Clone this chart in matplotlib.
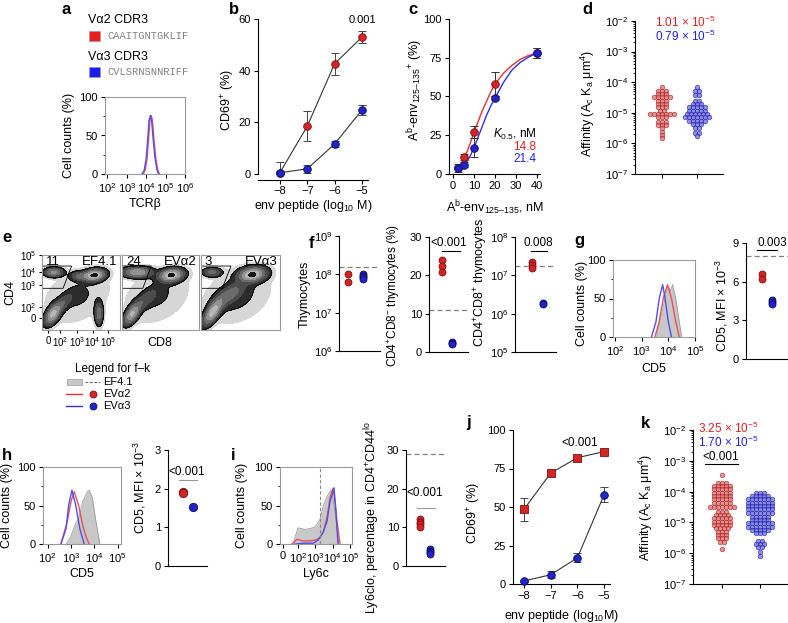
import numpy as np
import matplotlib
matplotlib.use("Agg")
import matplotlib.pyplot as plt
from matplotlib.lines import Line2D
from matplotlib.patches import Rectangle, Polygon
from matplotlib.ticker import LogLocator, NullFormatter, FixedLocator

plt.rcParams['font.family'] = ['Liberation Sans', 'DejaVu Sans']
plt.rcParams['mathtext.fontset'] = 'custom'
plt.rcParams['mathtext.rm'] = 'Liberation Sans'
plt.rcParams['mathtext.it'] = 'Liberation Sans:italic'
plt.rcParams['mathtext.bf'] = 'Liberation Sans:bold'
plt.rcParams['font.size'] = 8
plt.rcParams['axes.linewidth'] = 0.8
plt.rcParams['xtick.major.width'] = 0.8
plt.rcParams['ytick.major.width'] = 0.8
plt.rcParams['xtick.major.size'] = 3
plt.rcParams['ytick.major.size'] = 3
plt.rcParams['xtick.minor.size'] = 1.5
plt.rcParams['ytick.minor.size'] = 1.5
plt.rcParams['xtick.major.pad'] = 2
plt.rcParams['ytick.major.pad'] = 2

W, H = 788, 623
RED, RED_E = '#d42424', '#7a1010'
BLUE, BLUE_E = '#2323c8', '#0b0b62'
RED_L, BLUE_L = '#e07070', '#6c6ce0'
GRAYF = '#c8c8c8'

# ---- data ----
# a: TCRb histograms (log10 intensity, % max)
a_red_t = [3.85, 3.95, 4.05, 4.12, 4.20, 4.26, 4.32, 4.40, 4.50, 4.60, 4.68]
a_red_y = [0, 5, 20, 45, 70, 76, 70, 45, 20, 5, 0]
a_blue_t = [3.78, 3.90, 4.00, 4.08, 4.15, 4.22, 4.28, 4.36, 4.46, 4.56, 4.64]
a_blue_y = [0, 5, 20, 45, 70, 76, 70, 45, 20, 5, 0]

# b: CD69 dose response
b_x = [-8, -7, -6, -5]
b_red = [0.5, 18.5, 42.7, 53.0]
b_red_err = [4.0, 5.7, 4.3, 2.4]
b_blue = [0.5, 2.0, 11.6, 24.8]
b_blue_err = [0.5, 1.5, 1.3, 1.8]

# c: tetramer binding
c_x = [2.5, 5, 10, 20, 40]
c_red = [4, 11, 27, 58, 78]
c_red_err = [1, 2, 4, 8, 3]
c_blue = [4, 6, 17, 49, 78]
c_blue_err = [2.5, 1.5, 6, 1, 3]
c_fit_x = [2, 4, 6, 8, 10, 12, 14, 16, 18, 20, 24, 28, 32, 36, 40]
c_fit_red = [3, 7, 12, 19, 27, 34, 41, 47, 53, 58, 65, 70, 74, 76.5, 78]
c_fit_blue = [3, 5, 7, 11, 17, 24, 31, 38, 44, 49, 59, 67, 72, 75.5, 78]

# d: 2D affinity (log10 levels and number of cells at each level)
d_red_log = [-4.15, -4.28, -4.39, -4.49, -4.60, -4.71, -4.82, -4.93, -5.04,
             -5.15, -5.29, -5.40, -5.51, -5.62, -5.73, -5.83]
d_red_n = [1, 3, 3, 5, 3, 3, 3, 2, 7, 3, 3, 3, 1, 1, 1, 1]
d_blue_log = [-4.15, -4.28, -4.42, -4.60, -4.71, -4.82, -4.93, -5.04, -5.15,
              -5.26, -5.37, -5.51, -5.67, -5.76]
d_blue_n = [1, 2, 2, 2, 3, 5, 5, 6, 7, 5, 3, 2, 2, 1]

# e: flow plots, density blobs (x, y, sx, sy, rho, weight) in plot fractions
e_names = ['EF4.1', 'EV\u03b12', 'EV\u03b13']
e_pct = ['11', '24', '3']
e_blobs = [
    [(0.14, 0.21, 0.06, 0.08, 0.55, 0.80), (0.27, 0.36, 0.08, 0.08, 0.75, 0.22),
     (0.67, 0.73, 0.08, 0.045, 0.2, 1.00), (0.48, 0.72, 0.07, 0.035, 0.0, 0.30),
     (0.15, 0.77, 0.07, 0.035, 0.0, 0.55), (0.73, 0.22, 0.03, 0.09, 0.0, 0.40),
     (0.45, 0.45, 0.26, 0.22, 0.3, 0.07)],
    [(0.13, 0.21, 0.06, 0.08, 0.6, 0.75), (0.30, 0.40, 0.10, 0.09, 0.75, 0.22),
     (0.64, 0.73, 0.09, 0.05, 0.2, 1.00), (0.20, 0.77, 0.11, 0.04, 0.0, 0.70),
     (0.45, 0.45, 0.26, 0.22, 0.3, 0.07)],
    [(0.15, 0.24, 0.07, 0.10, 0.7, 0.85), (0.36, 0.47, 0.12, 0.10, 0.7, 0.35),
     (0.65, 0.74, 0.10, 0.055, 0.2, 1.00), (0.14, 0.77, 0.07, 0.035, 0.0, 0.35),
     (0.45, 0.45, 0.26, 0.22, 0.3, 0.08)],
]

# f: thymocyte numbers and subsets
f_thy_red = [1.05e8, 6.2e7]
f_thy_blue = [1.0e8, 9.2e7, 8.3e7, 7.5e7]
f_thy_ref = 1.55e8
f_cd4_red = [24, 22.5, 21]
f_cd4_blue = [2.6, 2.3, 2.0]
f_cd4_ref = 11
f_dp_red = [2.2e7, 1.9e7, 1.55e7]
f_dp_blue = [1.95e6, 1.75e6]
f_dp_ref = 1.7e7

# g: CD5 on DP thymocytes
g_blue_t = [3.37, 3.54, 3.66, 3.79, 3.88, 4.00, 4.12]
g_blue_y = [0, 20, 50, 68, 50, 20, 0]
g_red_t = [3.50, 3.66, 3.81, 3.97, 4.12, 4.28, 4.41]
g_red_y = [0, 20, 50, 68, 50, 20, 0]
g_gray_t = [3.56, 3.75, 3.94, 4.02, 4.08, 4.16, 4.28, 4.41, 4.50]
g_gray_y = [0, 30, 60, 65, 60, 68, 50, 20, 0]
g_mfi_red = [6.6, 6.2]
g_mfi_blue = [4.6, 4.4, 4.3]
g_mfi_ref = 8

# h: CD5 on peripheral CD4
h_blue_t = [2.57, 2.79, 2.90, 3.04, 3.21, 3.38, 3.57]
h_blue_y = [0, 20, 50, 70, 50, 20, 0]
h_red_t = [2.57, 2.85, 3.00, 3.14, 3.33, 3.50, 3.64, 3.78]
h_red_y = [0, 30, 55, 68, 50, 25, 10, 0]
h_gray_t = [2.79, 3.00, 3.18, 3.35, 3.50, 3.71, 3.78, 3.92, 4.07, 4.24]
h_gray_y = [0, 10, 25, 35, 55, 68, 70, 60, 30, 0]
h_mfi_red = [1.92, 1.88]
h_mfi_blue = [1.53]

# i: Ly6c
i_gray_t = [1.71, 2.00, 2.40, 2.69, 2.98, 3.27, 3.45, 3.68, 3.91, 4.02, 4.20, 4.35]
i_gray_y = [0, 21, 19, 20, 22, 32, 49, 62, 70, 60, 30, 0]
i_red_t = [1.65, 1.94, 2.29, 2.69, 2.98, 3.27, 3.45, 3.68, 3.85, 4.02, 4.14, 4.25, 4.43]
i_red_y = [0, 6, 4, 4, 5, 8, 15, 35, 60, 72, 55, 30, 0]
i_blue_t = [1.83, 2.29, 2.87, 3.16, 3.45, 3.68, 3.85, 4.08, 4.20, 4.31]
i_blue_y = [0, 1, 1, 5, 15, 30, 55, 73, 40, 0]
i_gate = 3.27
i_lo_red = [12.2, 11.5, 10.8, 10.0]
i_lo_blue = [4.3, 3.9, 3.5, 3.1]
i_lo_ref = 29

# j: CD69 dose response, peripheral
j_x = [-8, -7, -6, -5]
j_red = [48.5, 72, 82, 86]
j_red_err = [7.5, 1.5, 1.5, 1.5]
j_blue = [2, 6, 17, 58]
j_blue_err = [0.5, 2.3, 3, 5]

# k: 2D affinity, peripheral
k_red_log = [-3.46, -3.71, -3.82, -3.93, -4.04, -4.14, -4.25, -4.36, -4.49, -4.65,
             -4.76, -4.87, -4.98, -5.08, -5.19, -5.30, -5.41, -5.52, -5.63, -5.87]
k_red_n = [1, 3, 5, 5, 5, 5, 5, 5, 7, 3, 4, 5, 5, 5, 4, 3, 3, 3, 2, 1]
k_blue_log = [-4.04, -4.14, -4.25, -4.36, -4.47, -4.58, -4.68, -4.81, -4.92, -5.03,
              -5.14, -5.25, -5.35, -5.59, -5.70, -5.81, -5.95, -6.09]
k_blue_n = [3, 5, 7, 7, 7, 7, 7, 5, 5, 7, 7, 5, 3, 2, 3, 2, 1, 1]

fig = plt.figure(figsize=(W / 100, H / 100), dpi=100)


def ax_px(l, t, r, b):
    ax = fig.add_axes([l / W, 1 - b / H, (r - l) / W, (b - t) / H])
    ax.px = (l, t, r, b)
    return ax


def ftext(x, y, s, **kw):
    kw.setdefault('va', 'center')
    fig.text(x / W, 1 - y / H, s, **kw)


def fline(x0, x1, y0, y1=None, **kw):
    if y1 is None:
        y1 = y0
    fig.add_artist(Line2D([x0 / W, x1 / W], [1 - y0 / H, 1 - y1 / H],
                          transform=fig.transFigure, **kw))


def prism(ax):
    ax.spines['top'].set_visible(False)
    ax.spines['right'].set_visible(False)
    ax.tick_params(direction='out', labelsize=8)


def ylab(ax, s, xc, yc=None, size=9):
    l, t, r, b = ax.px
    if yc is None:
        yc = (t + b) / 2
    ax.set_ylabel(s, fontsize=size)
    ax.yaxis.set_label_coords((xc + 5 - l) / (r - l), (b - yc) / (b - t))


def xlab(ax, s, yc, size=9):
    l, t, r, b = ax.px
    ax.set_xlabel(s, fontsize=size)
    ax.xaxis.set_label_coords(0.5, (b - (yc - 5)) / (b - t))


def log_y(ax, lo, hi):
    ax.set_yscale('log')
    ax.set_ylim(10.0 ** lo, 10.0 ** hi)
    ex = list(range(lo, hi + 1))
    ax.set_yticks([10.0 ** k for k in ex], labels=[f'$10^{{{k}}}$' for k in ex])
    ax.yaxis.set_minor_locator(LogLocator(base=10, subs=np.arange(2, 10)))
    ax.yaxis.set_minor_formatter(NullFormatter())


def cat_xlim(ax, p1, p2):
    l, t, r, b = ax.px
    k = p2 - p1
    x0 = 1 - (p1 - l) / k
    ax.set_xlim(x0, x0 + (r - l) / k)
    return k


def hist_frame(ax, xlo, xhi, exps):
    ax.set_xscale('log')
    ax.set_xlim(10 ** xlo, 10 ** xhi)
    ax.set_ylim(0, 100)
    ax.set_xticks([10.0 ** k for k in exps], labels=[f'$10^{{{k}}}$' for k in exps])
    ax.xaxis.set_minor_locator(LogLocator(base=10, subs=np.arange(2, 10)))
    ax.xaxis.set_minor_formatter(NullFormatter())
    ax.set_yticks([0, 50, 100])
    ax.yaxis.set_minor_locator(FixedLocator([25, 75]))
    ax.tick_params(direction='out', labelsize=8)
    ax.tick_params(axis='x', which='both', top=False)
    for s in ax.spines.values():
        s.set_color('#9a9a9a')


def hist_curve(ax, t, y, color, fill=False):
    x = 10.0 ** np.array(t)
    if fill:
        ax.fill_between(x, y, color=GRAYF, lw=0)
        ax.plot(x, y, color='#9a9a9a', lw=0.6)
    else:
        ax.plot(x, y, color=color, lw=1.0)


def dot_panel(ax, p1, p2, red, blue, ref=None, ms=5):
    prism(ax)
    cat_xlim(ax, p1, p2)
    ax.set_xticks([])
    if ref is not None:
        ax.axhline(ref, color='#808080', ls=(0, (4, 2.5)), lw=0.9)
    ax.plot([1] * len(red), red, 'o', ms=ms, mfc=RED, mec=RED_E, mew=0.6, clip_on=False)
    ax.plot([2] * len(blue), blue, 'o', ms=ms, mfc=BLUE, mec=BLUE_E, mew=0.6, clip_on=False)


def swarm(ax, levels, counts, center, spacing, fc, ec):
    xs, ys = [], []
    for lv, n in zip(levels, counts):
        for i in range(n):
            xs.append(center + (i - (n - 1) / 2) * spacing)
            ys.append(10.0 ** lv)
    ax.scatter(xs, ys, s=11, c=fc, edgecolors=ec, linewidths=0.5, alpha=0.75, zorder=3)


def letter(x, y, s):
    ftext(x, y, s, fontsize=12, fontweight='bold', ha='left')


# ---- a ----
letter(62, 10, 'a')
ftext(88, 20, 'V\u03b12 CDR3', fontsize=9, ha='left')
fig.add_artist(Rectangle((89 / W, 1 - 41 / H), 11 / W, 10 / H, transform=fig.transFigure,
                         fc='#ee1c1c', ec='#999999', lw=0.5))
ftext(107, 36, 'CAAITGNTGKLIF', fontsize=7.5, ha='left', color='#808080', family='Liberation Mono')
ftext(88, 57, 'V\u03b13 CDR3', fontsize=9, ha='left')
fig.add_artist(Rectangle((89 / W, 1 - 77 / H), 11 / W, 10 / H, transform=fig.transFigure,
                         fc='#1c1cee', ec='#999999', lw=0.5))
ftext(107, 72, 'CVLSRNSNNRIFF', fontsize=7.5, ha='left', color='#808080', family='Liberation Mono')

ax = ax_px(105, 97, 185, 174)
hist_frame(ax, 1.88, 6.0, [2, 3, 4, 5, 6])
hist_curve(ax, a_red_t, a_red_y, '#e8505a')
hist_curve(ax, a_blue_t, a_blue_y, '#5050e8')
ylab(ax, 'Cell counts (%)', 70)
xlab(ax, 'TCR\u03b2', 203)

# ---- b ----
letter(229, 10, 'b')
ax = ax_px(258, 19, 368, 174)
prism(ax)
ax.spines['bottom'].set_position(('outward', 4))
ax.set_xlim(-8.8, -4.78)
ax.set_ylim(0, 60)
ax.set_yticks([0, 20, 40, 60])
ax.set_xticks(b_x, labels=['\u22128', '\u22127', '\u22126', '\u22125'])
for yv, ev, fc, ec in [(b_red, b_red_err, RED, RED_E), (b_blue, b_blue_err, BLUE, BLUE_E)]:
    ax.errorbar(b_x, yv, yerr=ev, fmt='none', ecolor='#444444', elinewidth=0.7, capsize=3, capthick=0.7)
    ax.plot(b_x, yv, '-', color='#333333', lw=0.8)
    ax.plot(b_x, yv, 'o', ms=5.5, mfc=fc, mec=ec, mew=0.6, clip_on=False, zorder=4)
ftext(362, 20, '0.001', fontsize=8, ha='center')
ylab(ax, 'CD69$^{+}$ (%)', 232, 100)
xlab(ax, 'env peptide (log$_{10}$ M)', 203)

# ---- c ----
letter(408, 10, 'c')
ax = ax_px(449, 19, 540, 174)
prism(ax)
ax.set_xlim(-1.9, 41.4)
ax.set_ylim(0, 100)
ax.set_yticks([0, 25, 50, 75, 100])
ax.set_xticks([0, 10, 20, 30, 40])
ax.plot(c_fit_x, c_fit_red, color='#e83030', lw=1.0)
ax.plot(c_fit_x, c_fit_blue, color='#3030e8', lw=1.0)
for yv, ev, fc, ec in [(c_red, c_red_err, RED, RED_E), (c_blue, c_blue_err, BLUE, BLUE_E)]:
    ax.errorbar(c_x, yv, yerr=ev, fmt='none', ecolor='#333333', elinewidth=0.7, capsize=3, capthick=0.7)
    ax.plot(c_x, yv, 'o', ms=5.5, mfc=fc, mec=ec, mew=0.6, clip_on=False, zorder=4)
ftext(537, 134, '$K_{0.5}$, nM', fontsize=8.5, ha='right')
ftext(536, 147, '14.8', fontsize=8.5, ha='right', color='#e02020')
ftext(536, 159, '21.4', fontsize=8.5, ha='right', color='#2020e0')
ylab(ax, 'A$^{\\mathrm{b}}$-env$_{\\mathrm{125\u2013135}}$$^{+}$ (%)', 420, 90)
xlab(ax, 'A$^{\\mathrm{b}}$-env$_{\\mathrm{125\u2013135}}$, nM', 203)

# ---- d ----
letter(582, 10, 'd')
ax = ax_px(635, 21, 723, 174)
prism(ax)
log_y(ax, -7, -2)
k = cat_xlim(ax, 662, 697)
ax.set_xticks([1, 2], labels=['', ''])
swarm(ax, d_red_log, d_red_n, 1, 4.0 / k, RED_L, '#a01818')
swarm(ax, d_blue_log, d_blue_n, 2, 4.0 / k, BLUE_L, '#1818a0')
ftext(655, 22, '1.01 \u00d7 10$^{-5}$', fontsize=8.5, ha='left', color='#e02020')
ftext(655, 36, '0.79 \u00d7 10$^{-5}$', fontsize=8.5, ha='left', color='#2020e0')
ylab(ax, 'Affinity (A$_{\\mathrm{c}}$ K$_{\\mathrm{a}}$ \u03bcm$^{4}$)', 592, 103)

# ---- e ----
letter(2, 238, 'e')
FLOW_LEVELS = [0.02, 0.06, 0.15, 0.3, 0.5, 0.75, 0.93, 10]
FLOW_COLORS = ['#d6d6d6', '#2c2c2c', '#4c4c4c', '#6c6c6c', '#929292', '#b6b6b6', '#141414']
GATE = [(0, 0.853), (0.38, 0.853), (0.27, 0.556), (0, 0.556)]
xx, yy = np.meshgrid(np.linspace(0, 1, 160), np.linspace(0, 1, 160))
for n, (l, r) in enumerate([(42, 120), (122, 199), (201, 280)]):
    ax = ax_px(l, 255, r, 330)
    z = np.zeros_like(xx)
    for cx, cy, sx, sy, rho, w in e_blobs[n]:
        dx = (xx - cx) / sx
        dy = (yy - cy) / sy
        z += w * np.exp(-0.5 * (dx * dx - 2 * rho * dx * dy + dy * dy) / (1 - rho * rho))
    ax.contourf(xx, yy, z, levels=FLOW_LEVELS, colors=FLOW_COLORS)
    ax.contour(xx, yy, z, levels=[0.06], colors='k', linewidths=0.6)
    ax.add_patch(Polygon(GATE, closed=True, fill=False, ec='k', lw=0.6))
    ax.set_xlim(0, 1)
    ax.set_ylim(0, 1)
    ax.text(0.05, 0.9, e_pct[n], fontsize=9.5, ha='left', va='center')
    ax.text(0.97, 0.9, e_names[n], fontsize=9.5, ha='right', va='center')
    for s in ax.spines.values():
        s.set_color('#9a9a9a')
    if n == 0:
        ax.set_xticks([0.077, 0.23, 0.45, 0.65, 0.85],
                      labels=['0', '$10^{2}$', '$10^{3}$', '$10^{4}$', '$10^{5}$'])
        ax.set_yticks([0.16, 0.31, 0.6, 0.77, 1.0],
                      labels=['0', '$10^{2}$', '$10^{3}$', '$10^{4}$', '$10^{5}$'])
        ax.tick_params(direction='out', labelsize=7, length=2.5, pad=1.5)
        ylab(ax, 'CD4', 11)
    else:
        ax.set_xticks([])
        ax.set_yticks([])
ftext(160, 343, 'CD8', fontsize=9, ha='center')

# legend for f-k
ftext(75, 369, 'Legend for f\u2013k', fontsize=8.5, ha='left')
fig.add_artist(Rectangle((67 / W, 1 - 385 / H), 15 / W, 6 / H, transform=fig.transFigure,
                         fc=GRAYF, ec='#9a9a9a', lw=0.5))
fline(85, 100, 382, color='#666666', lw=0.8, ls=(0, (2.5, 1.5)))
ftext(103, 382, 'EF4.1', fontsize=8, ha='left')
fline(66, 82, 394, color='#e83030', lw=1.0)
fig.add_artist(Line2D([93 / W], [1 - 394 / H], transform=fig.transFigure, marker='o', ms=5,
                      mfc=RED, mec=RED_E, mew=0.6, ls='none'))
ftext(103, 394, 'EV\u03b12', fontsize=8, ha='left')
fline(66, 82, 406, color='#3030e8', lw=1.0)
fig.add_artist(Line2D([93 / W], [1 - 406 / H], transform=fig.transFigure, marker='o', ms=5,
                      mfc=BLUE, mec=BLUE_E, mew=0.6, ls='none'))
ftext(103, 406, 'EV\u03b13', fontsize=8, ha='left')

# ---- f ----
letter(309, 243, 'f')
ax = ax_px(339, 236, 380, 351)
dot_panel(ax, 348, 363, f_thy_red, f_thy_blue, f_thy_ref)
log_y(ax, 6, 9)
ax.yaxis.set_minor_locator(FixedLocator([]))
ylab(ax, 'Thymocytes', 306, 294)

ax = ax_px(429, 237, 468, 352)
dot_panel(ax, 442, 452, f_cd4_red, f_cd4_blue, f_cd4_ref)
ax.set_ylim(0, 30)
ax.set_yticks([0, 10, 20, 30])
ylab(ax, 'CD4$^{+}$CD8$^{-}$ thymocytes (%)', 397, 295, size=8.5)
ftext(449, 243, '<0.001', fontsize=8.5, ha='center')
fline(442, 460, 251, color='k', lw=0.8)

ax = ax_px(515, 237, 556, 352)
dot_panel(ax, 532, 543, f_dp_red, f_dp_blue, f_dp_ref)
log_y(ax, 5, 8)
ax.yaxis.set_minor_locator(FixedLocator([]))
ylab(ax, 'CD4$^{+}$CD8$^{+}$ thymocytes', 485, 282)
ftext(538, 243, '0.008', fontsize=8.5, ha='center')
fline(531, 547, 251, color='k', lw=0.8)

# ---- g ----
letter(574, 240, 'g')
ax = ax_px(613, 260, 695, 337)
hist_frame(ax, 1.93, 5.0, [2, 3, 4, 5])
hist_curve(ax, g_gray_t, g_gray_y, None, fill=True)
hist_curve(ax, g_red_t, g_red_y, '#e8505a')
hist_curve(ax, g_blue_t, g_blue_y, '#5050e8')
ylab(ax, 'Cell counts (%)', 583, 303)
xlab(ax, 'CD5', 368)

ax = ax_px(746, 243, 788, 359)
dot_panel(ax, 762, 772, g_mfi_red, g_mfi_blue, g_mfi_ref)
ax.set_ylim(0, 9)
ax.set_yticks([0, 3, 6, 9])
ylab(ax, 'CD5, MFI \u00d7 10$^{-3}$', 725, 305)
ftext(772, 243, '0.003', fontsize=8.5, ha='center')
fline(757, 777, 250, color='k', lw=0.8)

# ---- h ----
letter(2, 456, 'h')
ax = ax_px(43, 467, 121, 544)
hist_frame(ax, 1.8, 5.15, [2, 3, 4, 5])
hist_curve(ax, h_gray_t, h_gray_y, None, fill=True)
hist_curve(ax, h_red_t, h_red_y, '#e8505a')
hist_curve(ax, h_blue_t, h_blue_y, '#5050e8')
ylab(ax, 'Cell counts (%)', 8)
xlab(ax, 'CD5', 573)

ax = ax_px(168, 450, 207, 566)
dot_panel(ax, 183, 193, h_mfi_red, h_mfi_blue, None, ms=6)
ax.set_ylim(0, 3)
ax.set_yticks([0, 1, 2, 3])
ylab(ax, 'CD5, MFI \u00d7 10$^{-3}$', 143, 487)
ftext(187, 472, '<0.001', fontsize=8.5, ha='center')
fline(179, 197, 480, color='#999999', lw=0.8)

# ---- i ----
letter(231, 456, 'i')
ax = ax_px(280, 467, 352, 544)
ax.set_xlim(0.96, 5.12)
ax.set_ylim(0, 100)
ax.fill_between(i_gray_t, i_gray_y, color=GRAYF, lw=0)
ax.plot(i_gray_t, i_gray_y, color='#9a9a9a', lw=0.6)
ax.plot(i_red_t, i_red_y, color='#e8505a', lw=1.0)
ax.plot(i_blue_t, i_blue_y, color='#5050e8', lw=1.0)
ax.axvline(i_gate, color='#888888', ls=(0, (3, 2)), lw=0.8)
ax.set_xticks([1.13, 2, 3, 4, 5], labels=['0', '$10^{2}$', '$10^{3}$', '$10^{4}$', '$10^{5}$'])
ax.set_yticks([0, 50, 100])
ax.yaxis.set_minor_locator(FixedLocator([25, 75]))
ax.tick_params(direction='out', labelsize=8)
for s in ax.spines.values():
    s.set_color('#9a9a9a')
ylab(ax, 'Cell counts (%)', 243)
xlab(ax, 'Ly6c', 573)

ax = ax_px(406, 450, 445, 566)
dot_panel(ax, 420, 430, i_lo_red, i_lo_blue, i_lo_ref)
ax.set_ylim(0, 30)
ax.set_yticks([0, 10, 20, 30])
ylab(ax, 'Ly6clo, percentage in CD4$^{+}$CD44$^{\\mathrm{lo}}$', 377, 517)
ftext(425, 493, '<0.001', fontsize=8.5, ha='center')
fline(417, 435, 508, color='#999999', lw=0.8)

# ---- j ----
letter(466, 423, 'j')
ax = ax_px(513, 430, 610, 584)
prism(ax)
ax.set_xlim(-8.41, -4.78)
ax.set_ylim(0, 100)
ax.set_yticks([0, 25, 50, 75, 100])
ax.set_xticks(j_x, labels=['\u22128', '\u22127', '\u22126', '\u22125'])
for yv, ev, fc, ec, mk in [(j_red, j_red_err, RED, RED_E, 's'), (j_blue, j_blue_err, BLUE, BLUE_E, 'o')]:
    ax.errorbar(j_x, yv, yerr=ev, fmt='none', ecolor='#444444', elinewidth=0.7, capsize=3, capthick=0.7)
    ax.plot(j_x, yv, '-', color='#333333', lw=0.8)
    ax.plot(j_x, yv, mk, ms=5.5, mfc=fc, mec=ec, mew=0.6, clip_on=False, zorder=4)
ftext(580, 443, '<0.001', fontsize=8.5, ha='center')
ylab(ax, 'CD69$^{+}$ (%)', 478, 513)
xlab(ax, 'env peptide (log$_{10}$M)', 613)

# ---- k ----
letter(641, 423, 'k')
ax = ax_px(693, 430, 788, 584)
prism(ax)
log_y(ax, -7, -2)
k = cat_xlim(ax, 722, 760)
ax.set_xticks([1, 2], labels=['', ''])
swarm(ax, k_red_log, k_red_n, 1, 4.0 / k, RED_L, '#a01818')
swarm(ax, k_blue_log, k_blue_n, 2, 4.0 / k, BLUE_L, '#1818a0')
ftext(698, 428, '3.25 \u00d7 10$^{-5}$', fontsize=8.5, ha='left', color='#e02020')
ftext(698, 442, '1.70 \u00d7 10$^{-5}$', fontsize=8.5, ha='left', color='#2020e0')
ftext(721, 457, '<0.001', fontsize=8.5, ha='center')
fline(705, 738, 464, color='k', lw=0.8)
ylab(ax, 'Affinity (A$_{\\mathrm{c}}$ K$_{\\mathrm{a}}$ \u03bcm$^{4}$)', 650, 507)

fig.savefig('out.png', dpi=100)
